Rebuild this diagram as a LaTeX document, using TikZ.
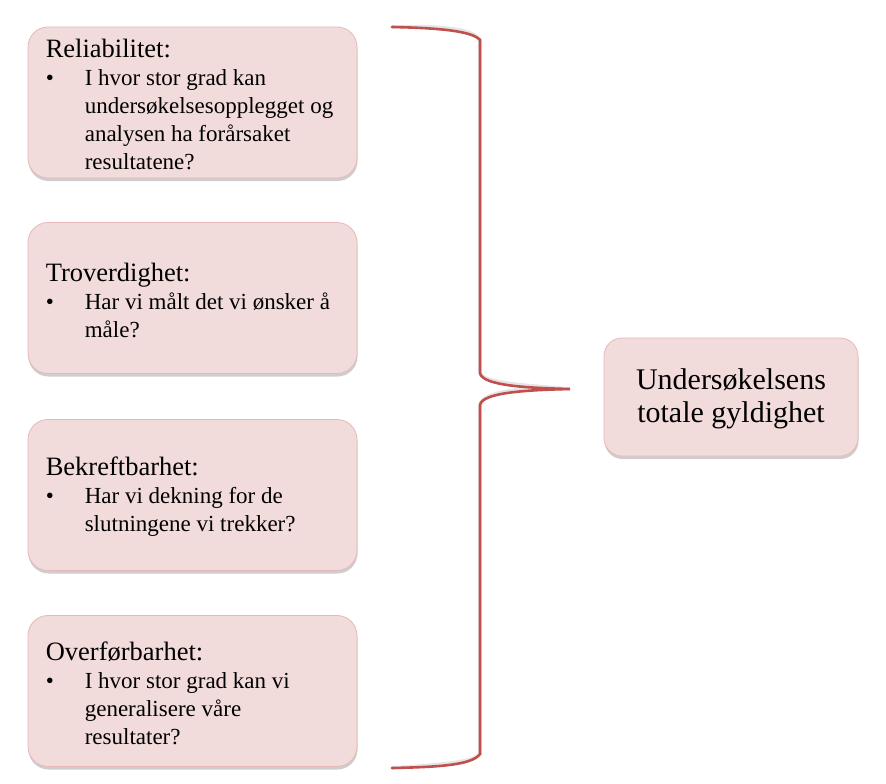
\documentclass[tikz,border=0pt]{standalone}
\usepackage{fontspec}
\setmainfont{Liberation Serif}
\usetikzlibrary{shadows}
\definecolor{boxfill}{HTML}{F2DCDB}
\definecolor{boxline}{HTML}{E6B9B8}
\definecolor{bracered}{HTML}{C0504D}
\newcommand{\bl}{\makebox[39pt][l]{\textbullet}}
\newcommand{\ind}{\hspace*{39pt}}
\newcommand{\ttl}[1]{{\fontsize{26.5}{29}\selectfont #1}}
\newcommand{\bracepath}{(bt) .. controls (440,28) and (472,31) .. (bc1) -- (bm1) .. controls (482,386) and (530,388) .. (tip) .. controls (530,390) and (482,392) .. (bm2) -- (bc2) .. controls (472,765) and (440,767) .. (bb)}
\begin{document}
\begin{tikzpicture}[x=1pt,y=-1pt,
  card/.style={draw=boxline, line width=0.8pt, fill=boxfill, rounded corners=20pt,
    drop shadow={shadow xshift=0.5pt, shadow yshift=-3pt, opacity=0.35, fill=black!55}},
  leftcard/.style={card, minimum width=329pt, minimum height=151pt},
  cardtext/.style={anchor=west, align=left, inner sep=0pt, font=\fontsize{23}{28}\selectfont},
  brace/.style={draw=bracered, line width=2.6pt, line cap=round}]
\useasboundingbox (0,0) rectangle (886,784);

\node[leftcard] (c1) at (192.5,102.5) {};
\node[leftcard] (c2) at (192.5,298) {};
\node[leftcard] (c3) at (192.5,495) {};
\node[leftcard] (c4) at (192.5,691) {};
\node[card, minimum width=254pt, minimum height=118pt, rounded corners=18pt] (r) at (731,397) {};

\node[cardtext] (t1) at ([xshift=18pt,yshift=-2pt]c1.west) {\ttl{Reliabilitet:}\\\bl I hvor stor grad kan\\\ind undersøkelsesopplegget og\\\ind analysen ha forårsaket\\\ind resultatene?};
\node[cardtext] (t2) at ([xshift=18pt,yshift=-2pt]c2.west) {\ttl{Troverdighet:}\\\bl Har vi målt det vi ønsker å\\\ind måle?};
\node[cardtext] (t3) at ([xshift=18pt,yshift=-2pt]c3.west) {\ttl{Bekreftbarhet:}\\\bl Har vi dekning for de\\\ind slutningene vi trekker?};
\node[cardtext] (t4) at ([xshift=18pt,yshift=-2pt]c4.west) {\ttl{Overførbarhet:}\\\bl I hvor stor grad kan vi\\\ind generalisere våre\\\ind resultater?};
\node[align=center, inner sep=0pt, font=\fontsize{30}{33}\selectfont] (rt) at ([yshift=-2pt]r.center) {Undersøkelsens\\totale gyldighet};

\coordinate (bt) at (392,27);
\coordinate (bc1) at (480,40);
\coordinate (bm1) at (480,373);
\coordinate (tip) at (570,389);
\coordinate (bm2) at (480,405);
\coordinate (bc2) at (480,754);
\coordinate (bb) at (392,768);

\begin{scope}[shift={(1pt,2.5pt)}]
\draw[draw=black, opacity=0.1, line width=3.5pt, line cap=round] \bracepath;
\end{scope}
\draw[brace] \bracepath;
\end{tikzpicture}
\end{document}
